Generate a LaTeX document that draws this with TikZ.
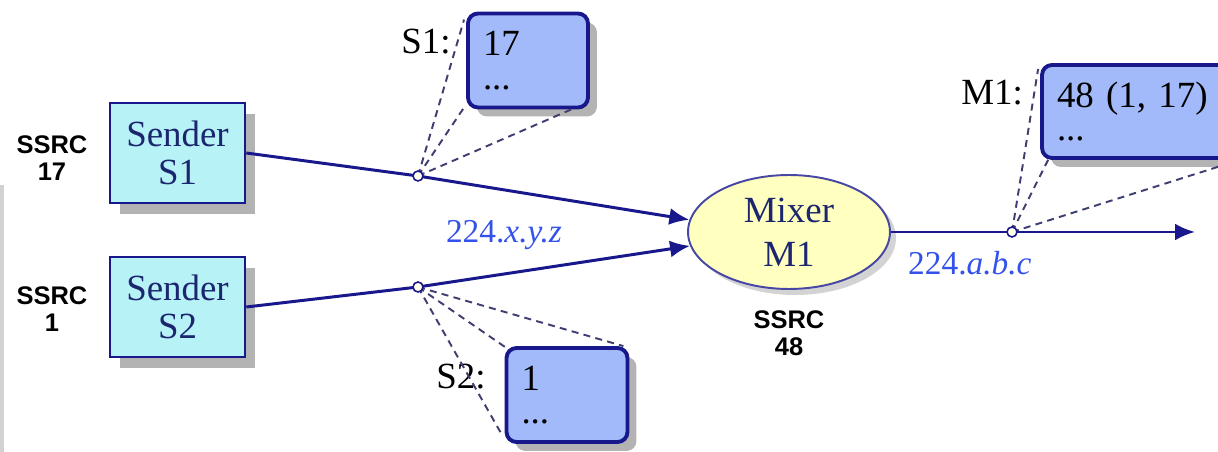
\documentclass[tikz,border=0pt]{standalone}
\usepackage{fontspec}
\setmainfont{Liberation Serif}
\setsansfont{Liberation Sans}
\usepackage{tikz}
\usetikzlibrary{
        arrows.meta,
        positioning,
        shadows,
        shapes.geometric
    }
\definecolor{navy}{RGB}{24,24,140}
\definecolor{textnavy}{RGB}{28,38,110}
\definecolor{cyanbox}{RGB}{182,242,246}
\definecolor{listbox}{RGB}{162,186,250}
\definecolor{mixfill}{RGB}{255,255,192}
\definecolor{addrblue}{RGB}{52,82,235}
\definecolor{tapline}{RGB}{62,62,112}
\tikzset{>={Latex[length=0.4cm,width=0.34cm]}}

\begin{document}
\begin{tikzpicture}[x=0.02cm,y=-0.02cm,
        sender/.style={draw=navy,line width=1.5pt,fill=cyanbox,
            minimum width=2.7cm,minimum height=2cm,align=center,
            text=textnavy,font=\fontsize{21}{22}\selectfont,
            drop shadow={shadow xshift=0.2cm,shadow yshift=-0.22cm,
                fill=gray,opacity=0.6}},
        mixer/.style={ellipse,draw=navy!80,line width=1.1pt,fill=mixfill,
            minimum width=4.04cm,minimum height=2.28cm,align=center,
            text=textnavy,font=\fontsize{21}{25}\selectfont,
            drop shadow={shadow xshift=0.12cm,shadow yshift=-0.12cm,
                fill=gray,opacity=0.35}},
        list/.style={draw=navy,line width=2.2pt,rounded corners=0.2cm,
            fill=listbox,minimum height=1.88cm,inner xsep=0.3cm,
            align=left,font=\fontsize{21}{19}\selectfont,
            drop shadow={shadow xshift=0.18cm,shadow yshift=-0.18cm,
                fill=gray,opacity=0.6}},
        ssrc/.style={align=center,font=\sffamily\bfseries\fontsize{14.5}{15.5}\selectfont},
        tag/.style={font=\fontsize{21}{24}\selectfont},
        addr/.style={text=addrblue,font=\fontsize{19}{22}\selectfont},
        flow/.style={->,draw=navy,line width=1.7pt},
        tap/.style={circle,draw=navy,fill=yellow!8,line width=0.9pt,
            inner sep=0pt,minimum size=0.2cm},
        ray/.style={draw=tapline,line width=1.1pt,dash pattern=on 4pt off 3pt}
    ]
    \useasboundingbox (0,0) rectangle (1218,452);
    \clip (0,0) rectangle (1218,452);
    \fill[gray!35] (0,185) rectangle (4,452);

    % senders and mixer
    \node[sender] (s1) at (177.5,153) {Sender\\S1};
    \node[sender] (s2) at (177.5,307) {Sender\\S2};
    \node[mixer] (mix) at (789,232) {Mixer\\M1};

    \node[ssrc] (ssrc17) at (52,158) {SSRC\\17};
    \node[ssrc] (ssrc1) at (52,309) {SSRC\\1};
    \node[ssrc] (ssrc48) at (789,333) {SSRC\\48};

    % lists seen on the wire
    \node[list,text width=1.8cm] (l1) at (528,60.5) {17\\...};
    \node[list,text width=1.82cm] (l2) at (567,395) {1\\...};
    \node[list,text width=3.32cm,minimum height=1.86cm] (lm) at (1140,111.5) {48 (1, 17)\\...};

    \node[tag] (tag1) at (426,42) {S1:};
    \node[tag] (tag2) at (461,377) {S2:};
    \node[tag] (tagm) at (992,93) {M1:};

    \coordinate (t1) at (418,176);
    \coordinate (t2) at (418,287);
    \coordinate (tm) at (1012,232);
    \coordinate (out) at (1195,232);

    \draw[flow] (s1.east) -- (t1) -- (mix.173);
    \draw[flow] (s2.east) -- (t2) -- (mix.188);
    \draw[flow] (mix.east) -- (out);

    \node[addr] (a1) at (504,235) {224.\textit{x.y.z}};
    \node[addr,anchor=west] (a2) at (902,263) {224.\textit{a.b.c}};

    \path[ray]
        (t1) edge ([shift={(-2,8)}]l1.north west)
        (t1) edge ([shift={(-2,-2)}]l1.south west)
        (t1) edge ([shift={(-14,-2)}]l1.south east)
        (t2) edge ([shift={(2,2)}]l2.north west)
        (t2) edge ([shift={(-6,0)}]l2.north east)
        (t2) edge ([shift={(-2,-8)}]l2.south west)
        (tm) edge ([shift={(-2,6)}]lm.north west)
        (tm) edge ([shift={(8,0)}]lm.south west)
        (tm) edge (lm.south east)
    ;

    \node[tap] (t1dot) at (t1) {};
    \node[tap] (t2dot) at (t2) {};
    \node[tap] (tmdot) at (tm) {};
\end{tikzpicture}
\end{document}
